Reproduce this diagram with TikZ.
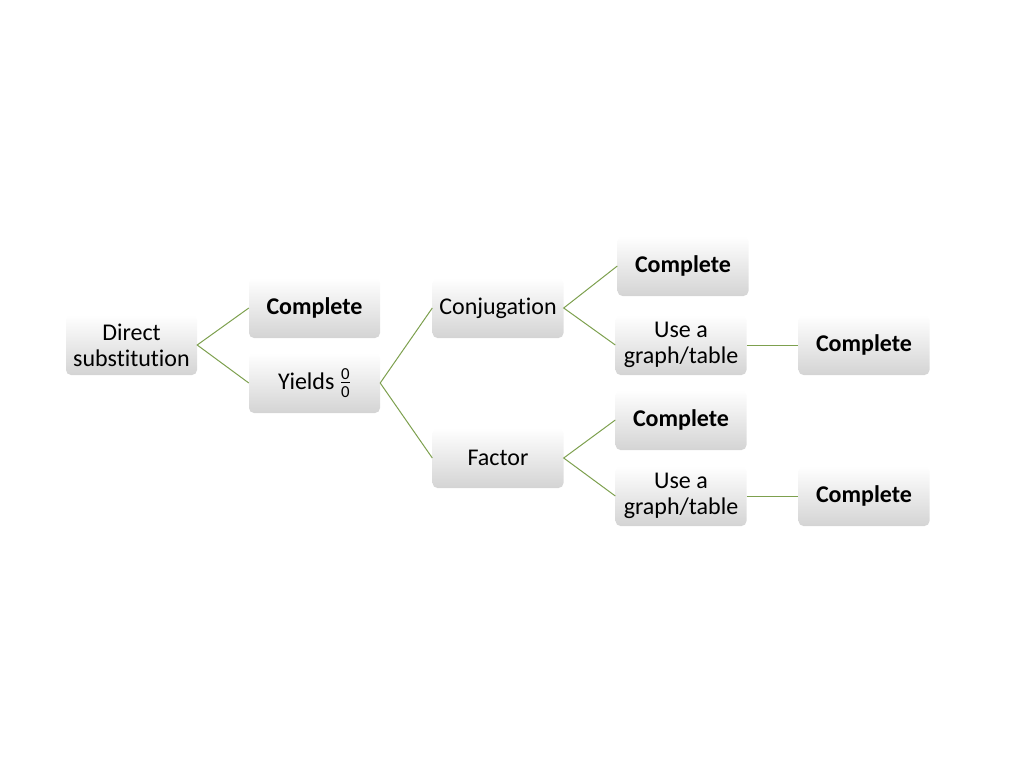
\documentclass[tikz,border=0pt]{standalone}
\usepackage{amsmath}
\usepackage{fontspec}
\setmainfont{Carlito}[Ligatures=NoCommon]
\usepackage{xcolor}
\usepackage{tikz}
\definecolor{leafgreen}{RGB}{125,160,78}
\tikzset{stepbox/.style={rectangle, rounded corners=5pt, minimum width=131pt,
  minimum height=60pt, inner sep=2pt, align=center, top color=white,
  middle color=white, bottom color=black!17,
  font=\fontsize{24}{26}\selectfont}}
\tikzset{link/.style={draw=leafgreen, line width=1pt}}

\begin{document}
\begin{tikzpicture}[x=1pt, y=-1pt]
\useasboundingbox (0,0) rectangle (1024,768);

\node [stepbox] (direct) at (131.5, 345) {Direct\\substitution};
\node [stepbox] (doneA) at (314.5, 308) {\textbf{Complete}};
\node [stepbox] (yields) at (314.5, 383) {Yields $\frac{\text{0}}{\text{0}}$};

\node [stepbox] (conj) at (498, 308) {Conjugation};
\node [stepbox] (factor) at (498, 458) {Factor};

\node [stepbox] (doneB) at (683, 266) {\textbf{Complete}};
\node [stepbox] (graphA) at (681, 345) {Use a\\graph/table};
\node [stepbox] (doneC) at (864, 345) {\textbf{Complete}};

\node [stepbox] (doneD) at (681, 420) {\textbf{Complete}};
\node [stepbox] (graphB) at (681, 496) {Use a\\graph/table};
\node [stepbox] (doneE) at (864, 496) {\textbf{Complete}};

\draw [link] (doneA.west) -- (direct.east) -- (yields.west);
\draw [link] (conj.west) -- (yields.east) -- (factor.west);
\draw [link] (doneB.west) -- (conj.east) -- (graphA.west);
\draw [link] (graphA) -- (doneC);
\draw [link] (doneD.west) -- (factor.east) -- (graphB.west);
\draw [link] (graphB) -- (doneE);
\end{tikzpicture}
\end{document}
